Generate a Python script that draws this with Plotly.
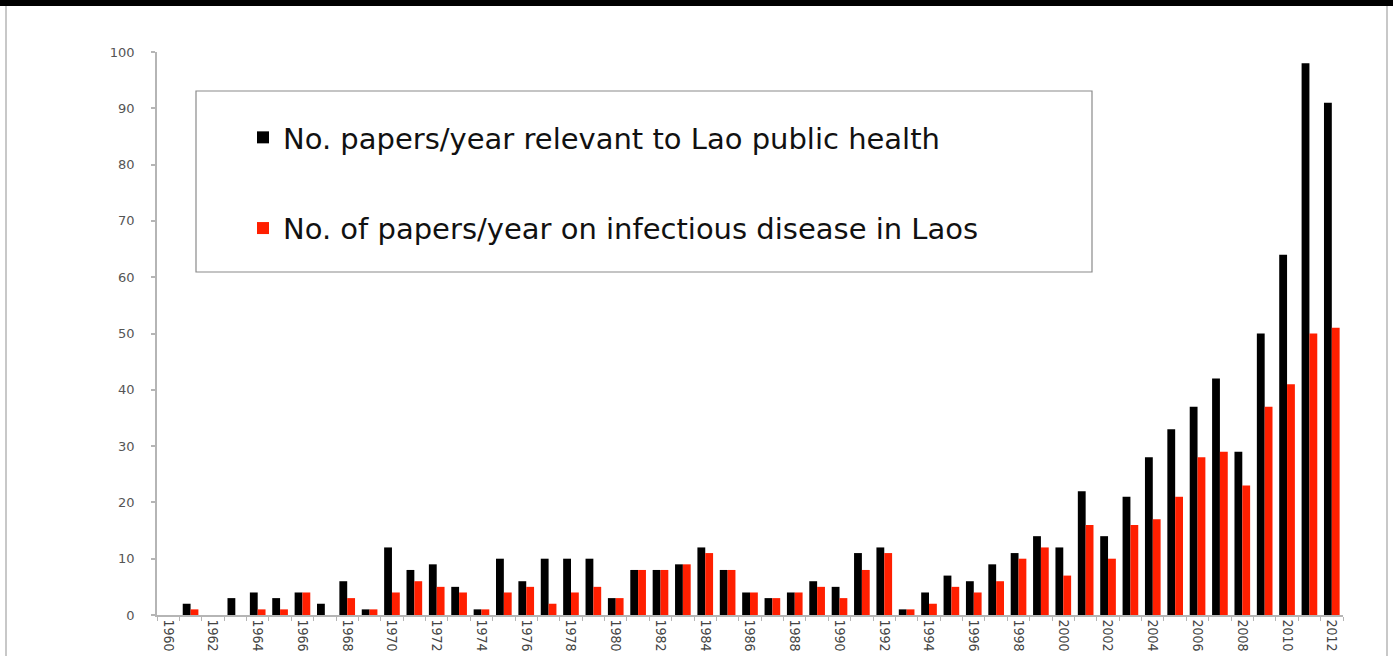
import plotly.graph_objects as go

years = list(range(1960, 2013))
all_papers = [0, 2, 0, 3, 4, 3, 4, 2, 6, 1,
              12, 8, 9, 5, 1, 10, 6, 10, 10, 10,
              3, 8, 8, 9, 12, 8, 4, 3, 4, 6,
              5, 11, 12, 1, 4, 7, 6, 9, 11, 14,
              12, 22, 14, 21, 28, 33, 37, 42, 29, 50,
              64, 98, 91]
infectious = [0, 1, 0, 0, 1, 1, 4, 0, 3, 1,
              4, 6, 5, 4, 1, 4, 5, 2, 4, 5,
              3, 8, 8, 9, 11, 8, 4, 3, 4, 5,
              3, 8, 11, 1, 2, 5, 4, 6, 10, 12,
              7, 16, 10, 16, 17, 21, 28, 29, 23, 37,
              41, 50, 51]
name_all = "No. papers/year relevant to Lao public health"
name_inf = "No. of papers/year on infectious disease in Laos"
y_ticks = list(range(0, 101, 10))
x_label_years = list(range(1960, 2013, 2))

W, H = 1393, 656
L, R, T, B = 157, 50, 52, 41
pw, ph = W - L - R, H - T - B

def px(x):
    return (x - L) / pw

def py(y):
    return (H - B - y) / ph

fig = go.Figure()
fig.add_trace(go.Bar(x=years, y=all_papers, name=name_all, marker_color="#000000",
                     marker_line_width=0, legendgroup="a"))
fig.add_trace(go.Bar(x=years, y=infectious, name=name_inf, marker_color="#ff1f00",
                     marker_line_width=0, legendgroup="b"))

shapes = [
    dict(type="rect", xref="paper", yref="paper", x0=px(196), x1=px(1092), y0=py(272), y1=py(91),
         line=dict(color="#8a8a8a", width=1.2), fillcolor="rgba(0,0,0,0)", layer="below"),
    dict(type="rect", xref="paper", yref="paper", x0=px(0), x1=px(W), y0=py(6), y1=py(0),
         line=dict(width=0), fillcolor="#000000"),
    dict(type="line", xref="paper", yref="paper", x0=px(6), x1=px(6), y0=py(656), y1=py(6),
         line=dict(color="#c8c8c8", width=2)),
    dict(type="line", xref="paper", yref="paper", x0=px(1387), x1=px(1387), y0=py(656), y1=py(6),
         line=dict(color="#c8c8c8", width=2)),
]

fig.update_layout(
    width=W, height=H,
    template="none",
    paper_bgcolor="white", plot_bgcolor="white",
    margin=dict(l=L, r=R, t=T, b=B, autoexpand=False),
    barmode="group", bargap=0.3, bargroupgap=0,
    showlegend=True,
    legend=dict(x=px(243), y=py(112), xanchor="left", yanchor="top",
                font=dict(family="DejaVu Sans", size=29, color="#111111"),
                bgcolor="rgba(0,0,0,0)", borderwidth=0,
                traceorder="grouped", tracegroupgap=50),
    shapes=shapes,
    xaxis=dict(range=[1959.5, 2012.5], tickmode="array", tickvals=x_label_years,
               ticktext=[str(y) for y in x_label_years], tickangle=90,
               ticks="", showgrid=False, zeroline=False, automargin=False,
               showline=True, linecolor="#b5b5b5", linewidth=1.5,
               tickfont=dict(family="Liberation Sans Narrow, DejaVu Sans Condensed, Arial Narrow, sans-serif",
                             size=14, color="#444444"),
               minor=dict(tick0=1959.5, dtick=1, ticks="outside", ticklen=4,
                          tickcolor="#b5b5b5", showgrid=False)),
    yaxis=dict(range=[0, 100], tickmode="array", tickvals=y_ticks,
               ticks="outside", ticklen=4, tickcolor="#b5b5b5", tickwidth=1.5,
               showgrid=False, zeroline=False, automargin=False,
               showline=True, linecolor="#b5b5b5", linewidth=1.5,
               ticklabelstandoff=14,
               tickfont=dict(family="DejaVu Sans", size=13, color="#555555")),
)

fig.write_html("out.html", config={"displayModeBar": False},
               post_script="document.body.style.margin='0px';document.body.style.overflow='hidden';")
